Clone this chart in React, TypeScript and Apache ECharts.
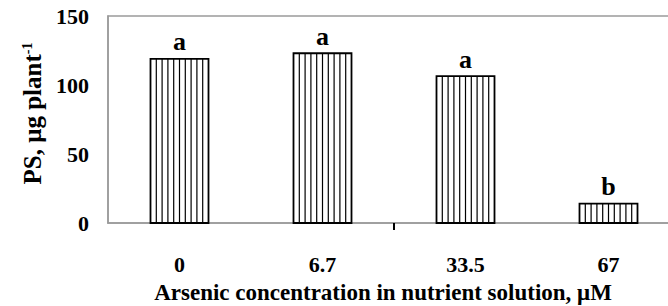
import React, { useEffect, useRef } from "react";
import * as echarts from "echarts";

const categories = ["0", "6.7", "33.5", "67"];
const values = [119, 123, 106.5, 14];
const letters = ["a", "a", "a", "b"];
const yTicks = [0, 50, 100, 150];
// boundary position (in category bands) where the reference shows its single tick mark
const tickBoundaries = [2];

const FONT = "'Liberation Serif', 'Times New Roman', serif";

export default function App() {
  const ref = useRef<HTMLDivElement>(null);
  useEffect(() => {
    const chart = echarts.init(ref.current!, null, { renderer: "svg" });
    const barWidth = 58;
    const stripes = 10;
    chart.setOption({
      animation: false,
      backgroundColor: "#fff",
      grid: {
        left: 108,
        top: 16,
        width: 572,
        height: 207,
        outerBoundsMode: "none",
        containLabel: false,
        show: true,
        borderColor: "#9a9a9a",
        borderWidth: 1.5,
      },
      xAxis: [
        {
          type: "category",
          data: categories,
          boundaryGap: true,
          axisLine: { lineStyle: { color: "#9a9a9a", width: 1.5 } },
          axisTick: { show: false },
          axisLabel: {
            margin: 30,
            fontFamily: FONT,
            fontWeight: "bold",
            fontSize: 22,
            color: "#000",
          },
          name: "Arsenic concentration in nutrient solution, μM",
          nameLocation: "middle",
          nameGap: 58,
          nameTextStyle: {
            fontFamily: FONT,
            fontWeight: "bold",
            fontSize: 23,
            color: "#000",
            padding: [0, 22, 0, 0],
          },
        },
        {
          type: "value",
          position: "bottom",
          min: 0,
          max: categories.length,
          axisLine: { show: false },
          splitLine: { show: false },
          axisLabel: { show: false },
          axisTick: {
            show: true,
            customValues: tickBoundaries,
            length: 7,
            lineStyle: { color: "#000", width: 2 },
          },
        },
      ],
      yAxis: {
        type: "value",
        min: yTicks[0],
        max: yTicks[yTicks.length - 1],
        interval: 50,
        splitLine: { show: false },
        axisLine: { show: true, lineStyle: { color: "#9a9a9a", width: 1.5 } },
        axisTick: { show: false },
        axisLabel: {
          margin: 19,
          fontFamily: FONT,
          fontWeight: "bold",
          fontSize: 22,
          color: "#000",
        },
        name: "{n|PS, μg plant}{s|-1}",
        nameLocation: "middle",
        nameGap: 63,
        nameTextStyle: {
          rich: {
            n: {
              fontFamily: FONT,
              fontWeight: "bold",
              fontSize: 25,
              color: "#000",
              padding: [0, 0, 0, 12],
            },
            s: {
              fontFamily: FONT,
              fontWeight: "bold",
              fontSize: 14,
              color: "#000",
              verticalAlign: "top",
              padding: [0, 0, 11, 0],
            },
          },
        },
      },
      series: [
        {
          type: "custom",
          xAxisIndex: 0,
          data: values.map((v, i) => [i, v]),
          renderItem: (params: any, api: any) => {
            const idx = params.dataIndex;
            const top = api.coord([api.value(0), api.value(1)]);
            const base = api.coord([api.value(0), 0]);
            const x0 = top[0] - barWidth / 2;
            const h = base[1] - top[1];
            const children: any[] = [
              {
                type: "rect",
                shape: { x: x0, y: top[1], width: barWidth, height: h },
                style: { fill: "#fff", stroke: "#000", lineWidth: 1.8 },
              },
            ];
            for (let k = 1; k < stripes; k++) {
              const lx = x0 + (barWidth * k) / stripes;
              children.push({
                type: "line",
                shape: { x1: lx, y1: top[1], x2: lx, y2: base[1] },
                style: { stroke: "#000", lineWidth: 1.2 },
              });
            }
            children.push({
              type: "text",
              style: {
                text: letters[idx],
                x: top[0],
                y: top[1] - 4,
                textAlign: "center",
                textVerticalAlign: "bottom",
                fontFamily: FONT,
                fontWeight: "bold",
                fontSize: 26,
                fill: "#000",
              },
            });
            return { type: "group", children };
          },
        },
      ],
    });
    return () => chart.dispose();
  }, []);
  return (
    <div
      ref={ref}
      style={{ width: 668, height: 306, position: "fixed", left: 0, top: 0, background: "#fff" }}
    />
  );
}
